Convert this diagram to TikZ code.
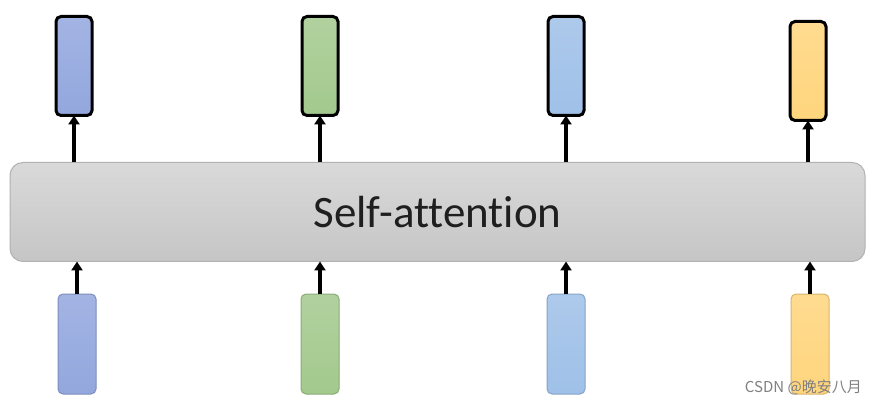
\documentclass[tikz,border=0pt]{standalone}
\usepackage{fontspec}
\setmainfont{Carlito}[Ligatures = NoCommon]
\newfontfamily\cjkfont{Noto Sans CJK SC}
\usepackage{tikz}
\usetikzlibrary{arrows.meta}

\definecolor{vecblue}{HTML}{93A7DE}
\definecolor{vecgreen}{HTML}{A3C98D}
\definecolor{veclight}{HTML}{9FC0E8}
\definecolor{vecyellow}{HTML}{FFD57D}
\definecolor{bargray}{HTML}{D0D0D0}

\tikzset{
    outvec/.style = {rectangle, rounded corners = 5pt, minimum width = 36pt,
        minimum height = 99pt, line width = 3pt, draw = black, outer sep = 0pt,
        top color = #1!85!white, bottom color = #1},
    invec/.style = {rectangle, rounded corners = 5pt, minimum width = 38pt,
        minimum height = 100pt, line width = 1pt, draw = #1!85!black, outer sep = 0pt,
        top color = #1!85!white, bottom color = #1},
    arr/.style = {line width = 3.2pt, -{Triangle[width = 11pt, length = 9pt]}}
}

\begin{document}
\begin{tikzpicture}[x = 1pt, y = 1pt]
        \useasboundingbox [fill = white] (0, 0) rectangle (877, 407);
        \node [rectangle, rounded corners = 13pt, minimum width = 855pt, minimum height = 99pt,
            top color = bargray!80!white, bottom color = bargray!95!black,
            draw = bargray!85!black, line width = 1pt, outer sep = 0pt] (bar) at (437.5, 195)
            {\fontsize{45}{50}\selectfont\color{black!88} Self-attention};
        \node [outvec = vecblue] (t1) at (74, 341) {};
        \node [outvec = vecgreen] (t2) at (320, 341) {};
        \node [outvec = veclight] (t3) at (566, 341) {};
        \node [outvec = vecyellow] (t4) at (808, 336) {};
        \node [invec = vecblue] (b1) at (77, 63) {};
        \node [invec = vecgreen] (b2) at (320, 63) {};
        \node [invec = veclight] (b3) at (566, 63) {};
        \node [invec = vecyellow] (b4) at (810, 63) {};
        \draw [arr] (t1 |- bar.north) -- (t1.south);
        \draw [arr] (t2 |- bar.north) -- (t2.south);
        \draw [arr] (t3 |- bar.north) -- (t3.south);
        \draw [arr] (t4 |- bar.north) -- (t4.south);
        \draw [arr] (b1.north) -- (b1 |- bar.south);
        \draw [arr] (b2.north) -- (b2 |- bar.south);
        \draw [arr] (b3.north) -- (b3 |- bar.south);
        \draw [arr] (b4.north) -- (b4 |- bar.south);
        \node [text = gray, anchor = south east, inner sep = 0pt] (mark) at (862, 12)
            {\cjkfont\fontsize{15}{18}\selectfont CSDN @晚安八月};
    \end{tikzpicture}
\end{document}
